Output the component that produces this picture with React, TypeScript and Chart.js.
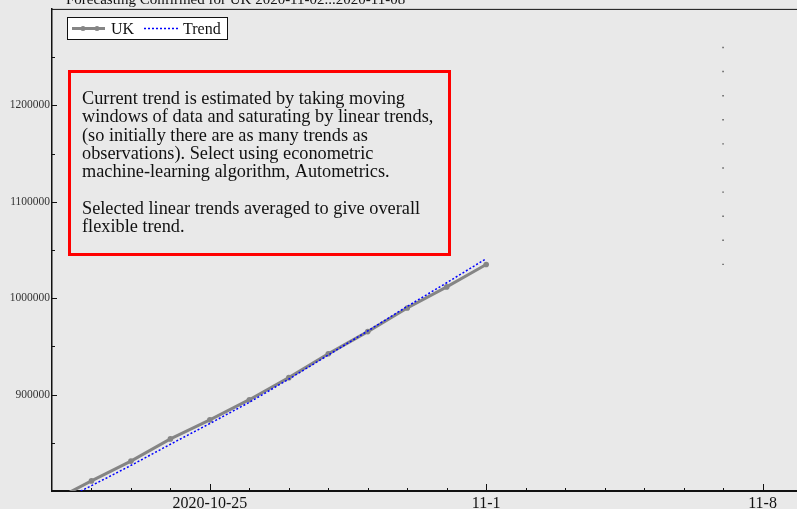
import React, { useEffect, useRef } from 'react';
import Chart from 'chart.js/auto';

const DATES = [
  '2020-10-21', '2020-10-22', '2020-10-23', '2020-10-24', '2020-10-25', '2020-10-26',
  '2020-10-27', '2020-10-28', '2020-10-29', '2020-10-30', '2020-10-31', '2020-11-01',
];
const UK = [789229, 810467, 830998, 854010, 873800, 894690, 917575, 942275, 965340, 989745, 1011660, 1034914];
const TREND = [785000, 805500, 826500, 848500, 870000, 892000, 916000, 941000, 966000, 991500, 1016000, 1041000];
const FORECAST_DAY = 17; // 2020-11-07, days after 2020-10-21
const FORECAST_BAND = [1035000, 1060000, 1085000, 1110000, 1135000, 1160000, 1185000, 1210000, 1235000, 1260000];

const X_MIN = 0;
const X_MAX = 19;
const X_TICK_DAYS = [4, 11, 18];
const X_TICK_LABELS = ['2020-10-25', '11-1', '11-8'];
const Y_MIN = 800000;
const Y_MAX = 1300000;
const Y_TICKS = [900000, 1000000, 1100000, 1200000];
const Y_MINOR_TICKS = [850000, 950000, 1050000, 1150000, 1250000];

const TITLE = 'Forecasting Confirmed for UK 2020-11-02...2020-11-08';
const NOTE_LINES = [
  'Current trend is estimated by taking moving',
  'windows of data and saturating by linear trends,',
  '(so initially there are as many trends as',
  'observations). Select using econometric',
  'machine-learning algorithm, Autometrics.',
  '',
  'Selected linear trends averaged to give overall',
  'flexible trend.',
];

const SERIF = "'Liberation Serif', 'Times New Roman', serif";
const BG = '#e9e9e9';
const UK_COLOR = '#858585';
const TREND_COLOR = '#0000ff';

const CANVAS_W = 830;
const CANVAS_H = 509;

const bgPlugin = {
  id: 'bgPlugin',
  beforeDraw(chart: any) {
    const ctx = chart.ctx;
    ctx.save();
    ctx.fillStyle = BG;
    ctx.fillRect(0, 0, chart.width, chart.height);
    ctx.restore();
  },
};

const decorPlugin = {
  id: 'decorPlugin',
  afterDraw(chart: any) {
    const ctx = chart.ctx;
    const area = chart.chartArea;
    const xs = chart.scales.x;
    const ys = chart.scales.y;
    ctx.save();

    // top frame line
    ctx.strokeStyle = '#111';
    ctx.lineWidth = 1;
    ctx.beginPath();
    ctx.moveTo(area.left, area.top + 0.5);
    ctx.lineTo(chart.width, area.top + 0.5);
    ctx.stroke();

    // x ticks (inside)
    for (let d = X_MIN + 1; d <= X_MAX; d++) {
      const px = Math.round(xs.getPixelForValue(d)) + 0.5;
      const len = X_TICK_DAYS.includes(d) ? 7 : 3;
      ctx.beginPath();
      ctx.moveTo(px, area.bottom);
      ctx.lineTo(px, area.bottom - len);
      ctx.stroke();
    }
    // y ticks (inside)
    const yTick = (v: number, len: number) => {
      const py = Math.round(ys.getPixelForValue(v)) + 0.5;
      ctx.beginPath();
      ctx.moveTo(area.left, py);
      ctx.lineTo(area.left + len, py);
      ctx.stroke();
    };
    Y_TICKS.forEach((v) => yTick(v, 5));
    Y_MINOR_TICKS.forEach((v) => yTick(v, 3));

    // title
    ctx.fillStyle = '#111';
    ctx.font = `15px ${SERIF}`;
    ctx.textAlign = 'left';
    ctx.textBaseline = 'alphabetic';
    ctx.fillText(TITLE, 66, 4);

    // legend
    ctx.fillStyle = '#ffffff';
    ctx.fillRect(67, 17, 160, 22);
    ctx.strokeStyle = '#111';
    ctx.lineWidth = 1;
    ctx.strokeRect(67.5, 17.5, 160, 22);
    const ly = 28.5;
    ctx.strokeStyle = UK_COLOR;
    ctx.lineWidth = 3;
    ctx.beginPath();
    ctx.moveTo(72, ly);
    ctx.lineTo(105, ly);
    ctx.stroke();
    ctx.fillStyle = UK_COLOR;
    [83, 97].forEach((cx) => {
      ctx.beginPath();
      ctx.arc(cx, ly, 2.5, 0, Math.PI * 2);
      ctx.fill();
    });
    ctx.strokeStyle = TREND_COLOR;
    ctx.lineWidth = 1.5;
    ctx.setLineDash([2, 2]);
    ctx.beginPath();
    ctx.moveTo(144, ly);
    ctx.lineTo(178, ly);
    ctx.stroke();
    ctx.setLineDash([]);
    ctx.fillStyle = '#111';
    ctx.font = `16px ${SERIF}`;
    ctx.textBaseline = 'alphabetic';
    ctx.fillText(chart.data.datasets[0].label, 111, 34);
    ctx.fillText(chart.data.datasets[1].label, 183, 34);

    // annotation box
    ctx.strokeStyle = '#ff0000';
    ctx.lineWidth = 3;
    ctx.strokeRect(69.5, 71.5, 380, 183);
    ctx.fillStyle = '#111';
    ctx.font = `18.3px ${SERIF}`;
    NOTE_LINES.forEach((line, i) => {
      if (line) ctx.fillText(line, 82, 104 + i * 18.3);
    });

    ctx.restore();
  },
};

export default function App() {
  const canvasRef = useRef<HTMLCanvasElement | null>(null);

  useEffect(() => {
    const canvas = canvasRef.current;
    if (!canvas) return;
    const chart = new Chart(canvas, {
      type: 'line',
      data: {
        datasets: [
          {
            label: 'UK',
            data: UK.map((v, i) => ({ x: i, y: v })),
            borderColor: UK_COLOR,
            backgroundColor: UK_COLOR,
            borderWidth: 3,
            pointRadius: 2.8,
            pointBackgroundColor: UK_COLOR,
            pointBorderWidth: 0,
            tension: 0,
            clip: 0,
            order: 1,
          },
          {
            label: 'Trend',
            data: TREND.map((v, i) => ({ x: i, y: v })),
            borderColor: TREND_COLOR,
            borderWidth: 1.5,
            borderDash: [2, 2],
            pointRadius: 0,
            tension: 0,
            clip: 0,
            order: 0,
          },
          {
            label: 'Forecast',
            data: FORECAST_BAND.map((v) => ({ x: FORECAST_DAY, y: v })),
            showLine: false,
            pointStyle: 'rect',
            pointRadius: 1,
            pointBorderWidth: 0,
            pointBackgroundColor: '#555',
            borderColor: '#555',
            clip: 0,
            order: 2,
          },
        ],
      },
      options: {
        responsive: false,
        devicePixelRatio: 1,
        animation: false,
        layout: { padding: { top: 7, right: 28, left: 0, bottom: 0 } },
        plugins: { legend: { display: false }, tooltip: { enabled: false }, title: { display: false } },
        scales: {
          x: {
            type: 'linear',
            min: X_MIN,
            max: X_MAX,
            afterFit: (s: any) => { s.height = 18; },
            afterBuildTicks: (s: any) => { s.ticks = X_TICK_DAYS.map((v) => ({ value: v })); },
            ticks: {
              autoSkip: false,
              maxRotation: 0,
              padding: 3,
              color: '#111',
              font: { family: SERIF, size: 16 },
              callback: (v: any) => {
                const i = X_TICK_DAYS.indexOf(Number(v));
                return i >= 0 ? X_TICK_LABELS[i] : '';
              },
            },
            grid: { display: false, drawTicks: false },
            border: { display: true, color: '#111', width: 2 },
          },
          y: {
            type: 'linear',
            min: Y_MIN,
            max: Y_MAX,
            afterFit: (s: any) => { s.width = 52; },
            afterBuildTicks: (s: any) => { s.ticks = Y_TICKS.map((v) => ({ value: v })); },
            ticks: {
              autoSkip: false,
              padding: 2,
              color: '#333',
              font: { family: SERIF, size: 11.5 },
              callback: (v: any) => String(v),
            },
            grid: { display: false, drawTicks: false },
            border: { display: true, color: '#111', width: 1.5 },
          },
        },
      },
      plugins: [bgPlugin, decorPlugin],
    });
    return () => chart.destroy();
  }, []);

  return (
    <div
      style={{
        position: 'absolute',
        left: 0,
        top: 0,
        width: 797,
        height: 509,
        overflow: 'hidden',
        background: BG,
      }}
    >
      <canvas
        ref={canvasRef}
        width={CANVAS_W}
        height={CANVAS_H}
        style={{ width: CANVAS_W, height: CANVAS_H, display: 'block' }}
      />
    </div>
  );
}
